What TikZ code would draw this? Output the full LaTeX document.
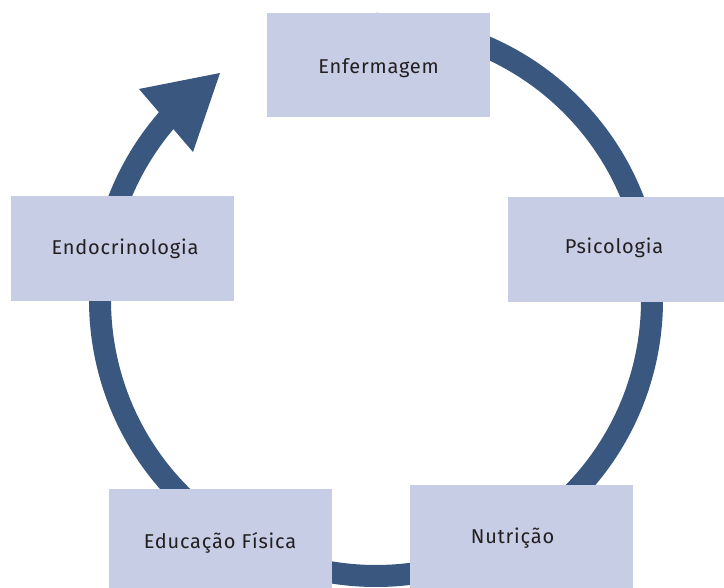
\documentclass[tikz,border=0pt]{standalone}
\usepackage{fontspec}
\setmainfont{Fira Sans}[LetterSpace=4]
\definecolor{ringblue}{HTML}{3A5780}
\definecolor{boxfill}{HTML}{C8CDE6}
\definecolor{txt}{HTML}{231F20}
\begin{document}
\begin{tikzpicture}[x=1pt,y=1pt,
  box/.style={rectangle, fill=boxfill, draw=none, minimum width=223pt, minimum height=104pt, inner sep=0pt},
  lbl/.style={anchor=base, text=txt, font=\fontsize{20}{24}\selectfont, inner sep=0pt},
  ring/.style={draw=ringblue, line width=22pt}]
\useasboundingbox (0,0) rectangle (724,588);
\clip (0,0) rectangle (724,588);
\coordinate (c) at (376,288);
% ring
\draw[ring] (c) ++(138:276) arc[start angle=138, end angle=450, radius=276];
% arrow head
\coordinate (tip) at (220,515);
\coordinate (bl) at (139,499);
\coordinate (br) at (193,436);
\fill[ringblue] (tip) -- (bl) -- (br) -- cycle;
% boxes
\node[box] (enf) at (378.5,523) {};
\node[box, minimum width=222pt, minimum height=105pt] (psi) at (619,338.5) {};
\node[box, minimum height=105pt] (endo) at (122.5,339.5) {};
\node[box] (edu) at (220.5,47) {};
\node[box] (nut) at (521.5,51) {};
% labels
\node[lbl] (enft) at (378.5,514) {Enfermagem};
\node[lbl] (psit) at (614,334) {Psicologia};
\node[lbl] (endot) at (125,333) {Endocrinologia};
\node[lbl] (edut) at (220,39) {Educação Física};
\node[lbl] (nutt) at (512.5,44) {Nutrição};
\end{tikzpicture}
\end{document}
